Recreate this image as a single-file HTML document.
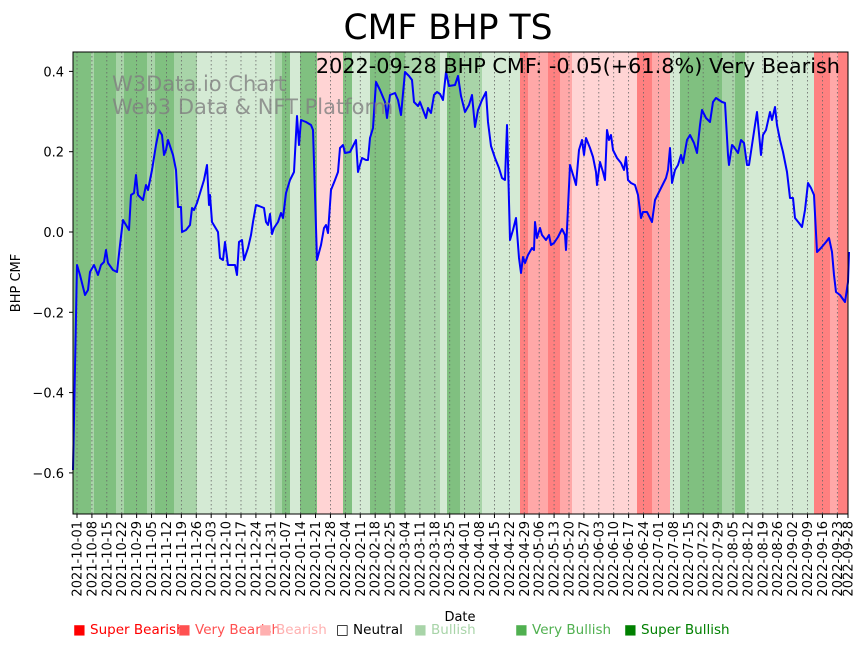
<!DOCTYPE html>
<html><head><meta charset="utf-8"><style>
body{margin:0;background:#fff;font-family:"Liberation Sans","DejaVu Sans",sans-serif}
</style></head><body>
<svg id="s" width="867" height="646" xmlns="http://www.w3.org/2000/svg" font-family="DejaVu Sans, Liberation Sans, sans-serif">
<g id="bands"></g><g id="grid"></g>
<polyline id="ln" fill="none" stroke="#0000ff" stroke-width="2" stroke-linejoin="round"/>
<rect x="73" y="52" width="775" height="462" fill="none" stroke="#000" stroke-width="1"/>
<g id="ticks"></g>
<text x="448" y="39" font-size="34.5" text-anchor="middle">CMF BHP TS</text>
<text x="840" y="73" font-size="20.8" text-anchor="end">2022-09-28 BHP CMF: -0.05(+61.8%) Very Bearish</text>
<text x="112" y="91" font-size="21" fill="#808080" fill-opacity="0.8">W3Data.io Chart</text>
<text x="112" y="114" font-size="21" fill="#808080" fill-opacity="0.8">Web3 Data &amp; NFT Platform</text>
<text transform="translate(20,283) rotate(-90)" font-size="13" text-anchor="middle">BHP CMF</text>
<text x="460" y="621" font-size="13" text-anchor="middle">Date</text>
<g font-size="13.5">
<text x="73" y="634" fill="#ff0000">■ Super Bearish</text>
<text x="178" y="634" fill="#ff5050">■ Very Bearish</text>
<text x="259" y="634" fill="#ffb0b0">■ Bearish</text>
<text x="336" y="634" fill="#000">□ Neutral</text>
<text x="414" y="634" fill="#a8d4a8">■ Bullish</text>
<text x="515" y="634" fill="#50b050">■ Very Bullish</text>
<text x="624" y="634" fill="#008000">■ Super Bullish</text>
</g>
</svg>
<script>
var NS="http://www.w3.org/2000/svg";
function el(t,a,p){var e=document.createElementNS(NS,t);for(var k in a)e.setAttribute(k,a[k]);document.getElementById(p).appendChild(e);return e;}
var C={D:"#80c080",M:"#a8d4a8",L:"#d4ead4",P:"#ffd4d4",K:"#ffa8a8",R:"#ff8080"};
var b=[[73,91,"D"],[91,94,"M"],[94,116,"D"],[116,124,"M"],[124,147,"D"],[147,155,"M"],[155,174,"D"],[174,182,"M"],[182,197,"M"],[197,275,"L"],[275,282,"M"],[282,290,"D"],[290,300,"L"],[300,317,"D"],[317,343,"P"],[343,352,"D"],[352,370,"L"],[370,390,"D"],[390,395,"M"],[395,405,"D"],[405,418,"M"],[418,440,"M"],[440,447,"L"],[447,460,"D"],[460,482,"M"],[482,520,"L"],[520,528,"R"],[528,548,"K"],[548,560,"R"],[560,572,"K"],[572,637,"P"],[637,652,"R"],[652,670,"K"],[670,680,"L"],[680,707,"D"],[707,722,"D"],[722,735,"M"],[735,745,"D"],[745,814,"L"],[814,830,"R"],[830,838,"K"],[838,848,"R"]];
b.forEach(function(x){el("rect",{x:x[0],y:52,width:x[1]-x[0],height:462,fill:C[x[2]]},"bands");});
var x0=77,pd=771/362,d0=Date.UTC(2021,9,1);
function lab(x,s){el("line",{x1:x,y1:52,x2:x,y2:514,stroke:"#666","stroke-width":0.8,"stroke-dasharray":"1.5,2.5"},"grid");
el("line",{x1:x,y1:514,x2:x,y2:518,stroke:"#000"},"ticks");
var t=el("text",{transform:"translate("+(x+4.5)+",521) rotate(-90)","font-size":13,"text-anchor":"end"},"ticks");t.textContent=s;}
for(var i=0;i<=51;i++){var d=new Date(d0+i*7*864e5);lab(x0+i*7*pd,d.toISOString().slice(0,10));}
lab(848,"2022-09-28");
[0.4,0.2,0,-0.2,-0.4,-0.6].forEach(function(v){var y=232-401.5*v;el("line",{x1:69,y1:y,x2:73,y2:y,stroke:"#000"},"ticks");var t=el("text",{x:64,y:y+5,"font-size":13,"text-anchor":"end"},"ticks");t.textContent=v.toFixed(1).replace("-","−");});
var p="73,470 77,265 80,275 85,295 88,290 90,272 94,265 98,275 101,265 104,262 106,250 108,263 113,270 117,272 120,245 123,220 129,230 131,195 134,193 136,175 138,195 143,200 146,185 148,190 152,170 156,145 159,130 162,135 164,155 166,150 168,140 173,155 176,170 178,207 181,207 182,232 186,230 190,225 192,208 194,210 197,203 204,180 207,165 209,205 210,195 212,222 218,232 220,258 223,260 225,242 228,265 235,265 237,275 239,242 242,240 244,260 248,248 251,235 253,222 256,205 259,206 264,208 266,222 268,225 270,214 272,234 274,228 278,222 281,213 283,218 286,193 290,180 294,172 297,116 299,145 301,120 306,122 311,125 313,130 317,260 321,245 324,228 326,225 328,233 331,190 335,180 338,172 340,148 343,145 345,153 350,152 352,148 356,140 358,172 362,158 366,160 368,160 370,138 373,128 376,82 380,90 385,102 387,118 390,95 395,93 398,100 401,115 405,72 409,76 412,80 414,102 418,106 420,102 423,110 426,118 428,108 431,113 434,95 437,92 440,94 443,100 446,72 449,86 455,85 458,76 461,96 465,112 469,105 472,95 475,127 478,110 482,100 486,92 488,122 491,146 495,158 499,168 502,178 505,180 507,125 510,240 513,230 516,218 519,258 521,273 523,257 525,263 528,255 532,248 534,250 535,222 537,238 540,228 542,235 546,240 549,235 551,245 554,243 558,237 562,229 565,235 566,250 570,165 574,178 576,185 579,150 582,140 584,155 586,138 590,148 593,157 596,172 597,185 600,162 603,172 605,180 607,130 609,140 611,135 613,150 617,158 621,163 624,170 626,157 628,180 631,183 635,185 638,195 641,218 643,212 647,212 652,222 655,200 659,192 662,186 666,178 668,170 670,148 672,183 675,170 678,165 681,155 683,163 687,140 690,135 694,143 697,153 700,125 702,110 706,118 710,122 713,102 716,98 719,100 722,102 725,103 728,155 729,165 732,145 734,147 738,153 741,140 744,143 747,165 749,165 752,145 755,125 757,112 761,155 763,135 766,130 770,112 772,120 775,107 777,125 780,140 783,152 787,172 790,198 793,198 795,218 799,223 802,227 805,210 808,183 811,188 814,195 817,252 821,248 826,242 829,238 832,252 834,275 836,292 840,295 845,302 848,282 849,252";
document.getElementById("ln").setAttribute("points",p);
</script>
</body></html>
